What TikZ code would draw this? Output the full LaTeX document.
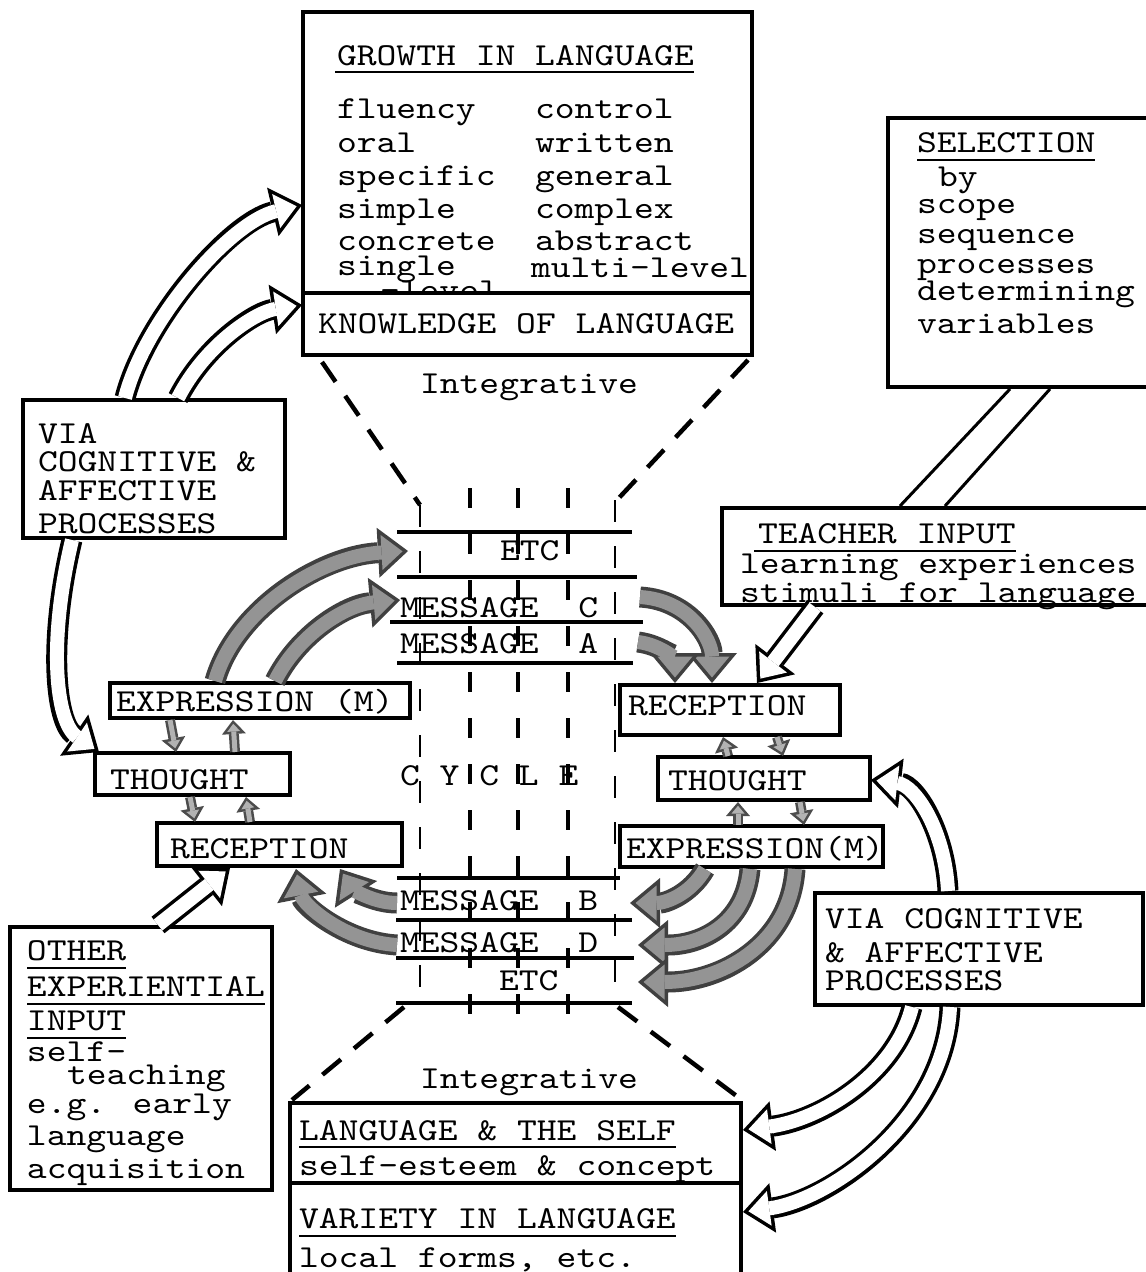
\documentclass[tikz,border=0pt]{standalone}
\usepackage{fontspec}
\newfontfamily\tw{lmmono10-regular}[Extension=.otf, FakeStretch=1.18]
\usetikzlibrary{arrows.meta,calc}
\tikzset{
  boxn/.style={draw, line width=3.5pt, fill=white, inner sep=0pt, outer sep=0pt, anchor=north west, rectangle},
  rown/.style={inner sep=0pt, outer sep=0pt, anchor=north west, rectangle},
  txt/.style={font=\tw\fontsize{32}{36}\selectfont, inner sep=0pt, outer sep=0pt, anchor=base west},
  uline/.style={line width=2.6pt},
  hline/.style={line width=4pt},
  vdash/.style={line width=3.5pt, dash pattern=on 20pt off 26pt},
  vdashthin/.style={line width=2pt, dash pattern=on 22pt off 24pt},
  diag/.style={line width=4.5pt, dash pattern=on 24pt off 17pt},
  band/.style={line width=3pt},
}
\newcommand\fatarrow[3]{%
  \draw[#1, line width=21pt, -{Triangle[length=30pt,width=50pt,line width=0pt]}] #3;
  \draw[#2, line width=14pt, shorten >=5.5pt, -{Triangle[length=21pt,width=35pt,line width=0pt]}] #3;
}
\newcommand\smallarrow[1]{%
  \draw[black!70, line width=10pt, -{Triangle[length=14pt,width=24pt,line width=0pt]}] #1;
  \draw[black!30, line width=5pt, shorten >=3.8pt, -{Triangle[length=7.7pt,width=13pt,line width=0pt]}] #1;
}
\begin{document}
\begin{tikzpicture}[x=1pt,y=-1pt]
\useasboundingbox (0,0) rectangle (1146,1272);
\fill[white] (0,0) rectangle (1146,1272);
\clip (0,0) rectangle (1146,1272);

% ---------- top box
\node[boxn, minimum width=449pt, minimum height=281pt] (growth) at (303,12) {};
\node[txt] (g0) at (337,65) {GROWTH IN LANGUAGE};
\draw[uline] ($(g0.base west)+(-2,7)$) -- ($(g0.base east)+(0,7)$);
\node[txt] (g1) at (337,118) {fluency};
\node[txt] (g2) at (535,118) {control};
\node[txt] (g3) at (337,152) {oral};
\node[txt] (g4) at (535,152) {written};
\node[txt] (g5) at (337,185) {specific};
\node[txt] (g6) at (535,185) {general};
\node[txt] (g7) at (337,218) {simple};
\node[txt] (g8) at (535,218) {complex};
\node[txt] (g9) at (337,250) {concrete};
\node[txt] (g10) at (535,250) {abstract};
\node[txt] (g11) at (337,275) {single};
\node[txt] (g12) at (531,277) {multi-level};
\node[txt] (g13) at (380,300) {-level};
\node[boxn, minimum width=449pt, minimum height=62pt] (know) at (303,293) {};
\node[txt] (k0) at (318,333) {KNOWLEDGE OF LANGUAGE};
\node[txt] (int1) at (420,393) {Integrative};

% ---------- selection box
\node[boxn, minimum width=290pt, minimum height=269pt] (sel) at (888,118) {};
\node[txt] (s0) at (917,152) {SELECTION};
\draw[uline] ($(s0.base west)+(0,8)$) -- ($(s0.base east)+(0,8)$);
\node[txt] (s1) at (938,186) {by};
\node[txt] (s2) at (917,213) {scope};
\node[txt] (s3) at (917,243) {sequence};
\node[txt] (s4) at (917,273) {processes};
\node[txt] (s5) at (917,300) {determining};
\node[txt] (s6) at (917,333) {variables};

% ---------- teacher input
\node[boxn, minimum width=450pt, minimum height=97pt] (teach) at (722,508) {};
\node[txt] (ti0) at (758,543) {TEACHER INPUT};
\draw[uline] ($(ti0.base west)+(-4,8)$) -- ($(ti0.base east)+(0,8)$);
\node[txt] (ti1) at (740,573) {learning experiences};
\node[txt] (ti2) at (740,602) {stimuli for language};

% ---------- left VIA box
\node[boxn, minimum width=262pt, minimum height=138pt] (viaL) at (23,400) {};
\node[txt] (vl1) at (38,443) {VIA};
\node[txt] (vl2) at (38,471) {COGNITIVE \&};
\node[txt] (vl3) at (38,500) {AFFECTIVE};
\node[txt] (vl4) at (38,533) {PROCESSES};

% ---------- left column
\node[boxn, minimum width=300pt, minimum height=35pt] (expL) at (110,683) {};
\node[txt] (el) at (116,711) {EXPRESSION (M)};
\node[boxn, minimum width=195pt, minimum height=42pt] (thL) at (95,753) {};
\node[txt] (tl) at (110,789) {THOUGHT};
\node[boxn, minimum width=245pt, minimum height=43pt] (recL) at (157,823) {};
\node[txt] (rl) at (170,858) {RECEPTION};

% ---------- other experiential input
\node[boxn, minimum width=262pt, minimum height=263pt] (other) at (10,927) {};
\node[txt] (o1) at (27,960) {OTHER};
\draw[uline] ($(o1.base west)+(0,8)$) -- ($(o1.base east)+(0,8)$);
\node[txt] (o2) at (27,996) {EXPERIENTIAL};
\draw[uline] ($(o2.base west)+(0,8)$) -- ($(o2.base east)+(0,8)$);
\node[txt] (o3) at (27,1030) {INPUT};
\draw[uline] ($(o3.base west)+(0,8)$) -- ($(o3.base east)+(0,8)$);
\node[txt] (o4) at (27,1061) {self-};
\node[txt] (o5) at (67,1084) {teaching};
\node[txt] (o6) at (27,1113) {e.g. early};
\node[txt] (o7) at (27,1145) {language};
\node[txt] (o8) at (27,1178) {acquisition};

% ---------- right column
\node[boxn, minimum width=220pt, minimum height=50pt] (recR) at (620,685) {};
\node[txt] (rr) at (628,715) {RECEPTION};
\node[boxn, minimum width=212pt, minimum height=43pt] (thR) at (658,757) {};
\node[txt] (tr) at (668,790) {THOUGHT};
\node[boxn, minimum width=263pt, minimum height=41pt] (expR) at (620,826) {};
\node[txt] (er) at (626,858) {EXPRESSION(M)};

% ---------- right VIA box
\node[boxn, minimum width=328pt, minimum height=112pt] (viaR) at (815,893) {};
\node[txt] (vr1) at (825,928) {VIA COGNITIVE};
\node[txt] (vr2) at (825,962) {\& AFFECTIVE};
\node[txt] (vr3) at (825,990) {PROCESSES};

% ---------- bottom boxes
\node[txt] (int2) at (420,1088) {Integrative};
\node[boxn, minimum width=451pt, minimum height=80pt] (self) at (290,1103) {};
\node[txt] (b1) at (299,1140) {LANGUAGE \& THE SELF};
\draw[uline] ($(b1.base west)+(0,7)$) -- ($(b1.base east)+(0,7)$);
\node[txt] (b2) at (299,1175) {self-esteem \& concept};
\node[boxn, minimum width=451pt, minimum height=130pt] (variety) at (290,1183) {};
\node[txt] (b3) at (299,1228) {VARIETY IN LANGUAGE};
\draw[uline] ($(b3.base west)+(0,8)$) -- ($(b3.base east)+(0,8)$);
\node[txt] (b4) at (299,1267) {local forms, etc.};

% ---------- central stack
\node[rown, minimum width=238pt, minimum height=45pt] (rowE1) at (397,532) {};
\node[rown, minimum width=238pt, minimum height=45pt] (rowC) at (397,577) {};
\node[rown, minimum width=238pt, minimum height=41pt] (rowA) at (397,622) {};
\node[rown, minimum width=235pt, minimum height=42pt] (rowB) at (397,878) {};
\node[rown, minimum width=235pt, minimum height=38pt] (rowD) at (397,920) {};
\node[rown, minimum width=235pt, minimum height=45pt] (rowE2) at (397,958) {};
\draw[hline] (397,532) -- (632,532);
\draw[hline] (397,577) -- (637,577);
\draw[hline] (390,622) -- (643,622);
\draw[hline] (397,663) -- (633,663);
\draw[hline] (397,878) -- (620,878);
\draw[hline] (396,920) -- (632,920);
\draw[hline] (396,958) -- (634,958);
\draw[hline] (396,1003) -- (632,1003);
\node[txt] (m1) at (500,560) {ETC};
\node[txt] (m2) at (400,617) {MESSAGE~~C};
\node[txt] (m3) at (400,653) {MESSAGE~~A};
\node[txt] (cyc) at (400,785) {C Y C L E};
\node[txt] (m4) at (400,910) {MESSAGE~~B};
\node[txt] (m5) at (400,952) {MESSAGE~~D};
\node[txt] (m6) at (499,990) {ETC};
\draw[vdashthin] (420,505) -- (420,1003);
\draw[vdash] (470,488) -- (470,1030);
\draw[vdash] (518,488) -- (518,1030);
\draw[vdash] (568,488) -- (568,1030);
\draw[vdashthin] (615,500) -- (615,1003);

% dashed funnel lines
\draw[diag] ($(know.south west)+(19,7)$) -- ($(rowE1.north west)+(23,-27)$);
\draw[diag] ($(know.south east)+(-4,5)$) -- ($(rowE1.north west)+(220,-32)$);
\draw[diag] ($(rowE2.south west)+(7,4)$) -- ($(self.north west)+(2,-3)$);
\draw[diag] ($(rowE2.south east)+(-14,4)$) -- ($(self.north east)+(-3,-6)$);

% selection -> teacher band
\draw[band] ($(sel.north west)+(122,271)$) -- ($(teach.north west)+(178,-2)$);
\draw[band] ($(sel.north west)+(162,271)$) -- ($(teach.north west)+(223,-2)$);

% ---------- hollow black arrows
\fatarrow{black}{white}{($(viaL.north west)+(102,-2)$) .. controls (145,320) and (230,222) .. ($(growth.north west)+(-1,193)$)}
\fatarrow{black}{white}{($(viaL.north west)+(155,-2)$) .. controls (205,345) and (255,312) .. ($(know.north west)+(-1,12)$)}
\fatarrow{black}{white}{($(viaL.north west)+(49,140)$) .. controls (48,640) and (55,722) .. ($(thL.north west)+(4,-1)$)}
\fatarrow{black}{white}{($(teach.north west)+(93,99)$) -- ($(recR.north west)+(137,-2)$)}
\fatarrow{black}{white}{($(other.north west)+(148,-2)$) -- ($(recL.north west)+(73,45)$)}
\fatarrow{black}{white}{($(viaR.north west)+(133,-2)$) .. controls (945,830) and (915,785) .. ($(thR.north west)+(213,23)$)}
\fatarrow{black}{white}{($(viaR.north west)+(97,114)$) .. controls (895,1075) and (820,1120) .. ($(self.north west)+(453,27)$)}
\fatarrow{black}{white}{($(viaR.north west)+(135,114)$) .. controls (945,1120) and (830,1200) .. ($(variety.north west)+(453,29)$)}

% ---------- shaded grey arrows of the cycle
\fatarrow{black!75}{black!42}{($(expL.north west)+(105,-2)$) .. controls (235,610) and (320,556) .. ($(rowE1.north west)+(11,19)$)}
\fatarrow{black!75}{black!42}{($(expL.north west)+(165,-2)$) .. controls (298,635) and (345,605) .. ($(rowC.north west)+(3,23)$)}
\fatarrow{black!75}{black!42}{($(rowC.north west)+(243,20)$) .. controls (690,600) and (712,640) .. ($(recR.north west)+(92,-2)$)}
\fatarrow{black!75}{black!42}{($(rowA.north west)+(241,20)$) .. controls (662,645) and (675,660) .. ($(recR.north west)+(55,-2)$)}
\fatarrow{black!75}{black!42}{($(expR.north west)+(85,43)$) .. controls (690,895) and (665,903) .. ($(rowB.north west)+(233,25)$)}
\fatarrow{black!75}{black!42}{($(expR.north west)+(130,43)$) .. controls (745,925) and (700,945) .. ($(rowD.north west)+(241,25)$)}
\fatarrow{black!75}{black!42}{($(expR.north west)+(175,43)$) .. controls (790,945) and (720,982) .. ($(rowE2.north west)+(241,24)$)}
\fatarrow{black!75}{black!42}{($(rowB.north west)+(0,25)$) .. controls (372,903) and (352,888) .. ($(recL.north west)+(183,46)$)}
\fatarrow{black!75}{black!42}{($(rowD.north west)+(0,25)$) .. controls (345,942) and (303,905) .. ($(recL.north west)+(139,46)$)}

% ---------- small arrows between boxes
\smallarrow{($(expL.north west)+(60,37)$) -- ($(thL.north west)+(81,-1)$)}
\smallarrow{($(thL.north west)+(140,-1)$) -- ($(expL.north west)+(123,37)$)}
\smallarrow{($(thL.north west)+(95,44)$) -- ($(recL.north west)+(38,-1)$)}
\smallarrow{($(recL.north west)+(93,-1)$) -- ($(thL.north west)+(151,44)$)}
\smallarrow{($(thR.north west)+(70,-1)$) -- ($(recR.north west)+(103,52)$)}
\smallarrow{($(recR.north west)+(157,52)$) -- ($(thR.north west)+(125,-1)$)}
\smallarrow{($(expR.north west)+(118,-1)$) -- ($(thR.north west)+(80,45)$)}
\smallarrow{($(thR.north west)+(142,45)$) -- ($(expR.north west)+(184,-1)$)}
\end{tikzpicture}
\end{document}
